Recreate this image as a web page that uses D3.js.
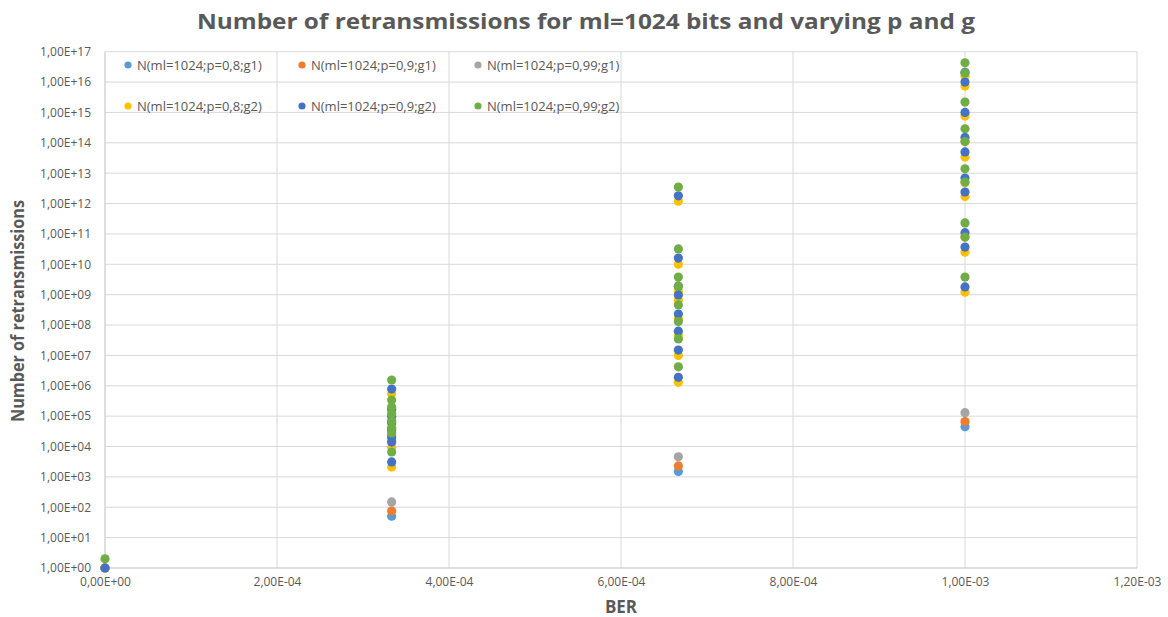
<!DOCTYPE html>
<html><head><meta charset="utf-8">
<script src="https://cdn.jsdelivr.net/npm/d3@7/dist/d3.min.js"></script>
<style>body{margin:0;background:#fff;}svg{display:block;}</style>
</head><body>
<svg id="c" width="1168" height="617"></svg>
<script>
// BER categories (x values)
const ber = [0, 3.333e-4, 6.667e-4, 1e-3];
const seriesNames = [
  "N(ml=1024;p=0,8;g1)", "N(ml=1024;p=0,9;g1)", "N(ml=1024;p=0,99;g1)",
  "N(ml=1024;p=0,8;g2)", "N(ml=1024;p=0,9;g2)", "N(ml=1024;p=0,99;g2)"
];
const seriesColors = ["#5B9BD5", "#ED7D31", "#A5A5A5", "#FFC000", "#4472C4", "#70AD47"];
// values per BER column for each series
const p08g1 = [[1], [51], [1500], [4.5e4]];
const p09g1 = [[1], [76], [2300], [6.6e4]];
const p099g1 = [[1], [150], [4600], [1.3e5]];
const p08g2 = [[1],
  [5.4e5, 1.2e5, 6.9e4, 4.1e4, 2.4e4, 1.4e4, 9.5e3, 2.1e3],
  [1.2e12, 1.0e10, 1.3e9, 6.6e8, 1.6e8, 4.4e7, 1.0e7, 1.3e6],
  [1.6e16, 7.4e15, 7.6e14, 1.1e14, 3.4e13, 4.8e12, 1.7e12, 7.9e10, 2.5e10, 1.2e9]];
const p09g2 = [[1],
  [7.8e5, 1.7e5, 1.0e5, 5.9e4, 3.5e4, 2.0e4, 1.4e4, 3.1e3],
  [1.8e12, 1.6e10, 1.9e9, 9.8e8, 2.3e8, 6.3e7, 1.5e7, 1.9e6],
  [2.1e16, 1.0e16, 1.0e15, 1.5e14, 5.0e13, 6.9e12, 2.4e12, 1.1e11, 3.7e10, 1.8e9]];
const p099g2 = [[2],
  [1.55e6, 3.4e5, 2.0e5, 1.2e5, 6.9e4, 4.1e4, 2.8e4, 6.6e3],
  [3.5e12, 3.2e10, 3.8e9, 1.9e9, 4.6e8, 1.3e8, 3.5e7, 4.2e6],
  [4.3e16, 2.0e16, 2.2e15, 2.9e14, 1.1e14, 1.4e13, 5.1e12, 2.3e11, 7.9e10, 3.8e9]];
const seriesValues = [p08g1, p09g1, p099g1, p08g2, p09g2, p099g2];
const xTicks = [0, 2e-4, 4e-4, 6e-4, 8e-4, 1e-3, 1.2e-3];
const yTicks = d3.range(0, 18).map(e => Math.pow(10, e));
const title = "Number of retransmissions for ml=1024 bits and varying p and  g";
const xTitle = "BER";
const yTitle = "Number of retransmissions";

const svg = d3.select("#c");
const L = 105, R = 1137, T = 51.7, B = 568;
const x = d3.scaleLinear().domain([0, 1.2e-3]).range([L, R]);
const y = d3.scaleLog().domain([1, 1e17]).range([B, T]);
const font = "'Open Sans', 'Liberation Sans', sans-serif";
const txt = "#595959";

function sci(v) {
  if (v === 0) return "0,00E+00";
  let e = Math.floor(Math.log10(Math.abs(v)) + 1e-9);
  let m = v / Math.pow(10, e);
  const s = e < 0 ? "-" : "+";
  return m.toFixed(2).replace(".", ",") + "E" + s + String(Math.abs(e)).padStart(2, "0");
}

// grid
const g = svg.append("g");
g.selectAll(".hg").data(yTicks.slice(1)).enter().append("line")
  .attr("x1", L).attr("x2", R).attr("y1", d => y(d)).attr("y2", d => y(d))
  .attr("stroke", "#D9D9D9").attr("stroke-width", 1);
g.selectAll(".vg").data(xTicks.slice(1)).enter().append("line")
  .attr("y1", T).attr("y2", B).attr("x1", d => x(d)).attr("x2", d => x(d))
  .attr("stroke", "#D9D9D9").attr("stroke-width", 1);
// axis lines
svg.append("line").attr("x1", L).attr("x2", R).attr("y1", B).attr("y2", B).attr("stroke", "#BFBFBF");
svg.append("line").attr("x1", L).attr("x2", L).attr("y1", T).attr("y2", B).attr("stroke", "#BFBFBF");

// y axis labels
const ya = svg.append("g").attr("transform", `translate(${L},0)`)
  .call(d3.axisLeft(y).tickValues(yTicks).tickFormat(sci).tickSize(0).tickPadding(14));
ya.select(".domain").remove();
ya.selectAll("text").attr("font-family", font).attr("font-size", 12).attr("fill", txt);

const xa = svg.append("g").attr("transform", `translate(0,${B})`)
  .call(d3.axisBottom(x).tickValues(xTicks).tickFormat(sci).tickSize(0).tickPadding(9));
xa.select(".domain").remove();
xa.selectAll("text").attr("font-family", font).attr("font-size", 12).attr("fill", txt);

// points
seriesValues.forEach((sv, si) => {
  const pts = [];
  sv.forEach((vals, xi) => vals.forEach(v => pts.push([ber[xi], v])));
  svg.append("g").selectAll("circle").data(pts).enter().append("circle")
    .attr("cx", d => x(d[0])).attr("cy", d => y(d[1])).attr("r", 4.6)
    .attr("fill", seriesColors[si]);
});

// legend
const legX = [128, 302, 478], legY = [65, 106];
seriesNames.forEach((n, i) => {
  const cx = legX[i % 3], cy = legY[Math.floor(i / 3)];
  svg.append("circle").attr("cx", cx).attr("cy", cy).attr("r", 3.6).attr("fill", seriesColors[i]);
  svg.append("text").attr("x", cx + 9).attr("y", cy + 4.5).text(n)
    .attr("font-family", font).attr("font-size", 13).attr("fill", txt);
});

// titles
svg.append("text").attr("x", 586).attr("y", 29).attr("text-anchor", "middle").text(title)
  .attr("textLength", 778).attr("lengthAdjust", "spacingAndGlyphs")
  .attr("font-family", font).attr("font-size", 21).attr("font-weight", "bold").attr("fill", txt);
svg.append("text").attr("x", 621).attr("y", 613).attr("text-anchor", "middle").text(xTitle)
  .attr("font-family", font).attr("font-size", 17).attr("font-weight", "bold").attr("fill", txt);
svg.append("text").attr("transform", "translate(24,311) rotate(-90)").attr("text-anchor", "middle").text(yTitle)
  .attr("textLength", 222).attr("lengthAdjust", "spacingAndGlyphs")
  .attr("font-family", font).attr("font-size", 17).attr("font-weight", "bold").attr("fill", txt);
</script>
</body></html>
